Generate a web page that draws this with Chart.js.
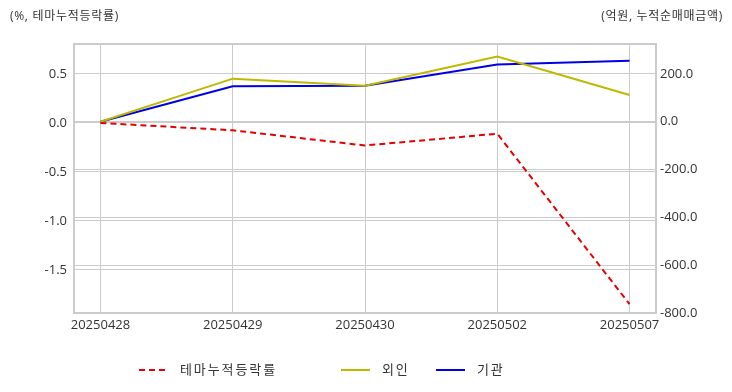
<!DOCTYPE html>
<html>
<head>
<meta charset="utf-8">
<script src="https://cdn.jsdelivr.net/npm/chart.js@4.4.1/dist/chart.umd.min.js"></script>
<style>
  html, body { margin: 0; padding: 0; background: #fff; }
  body { width: 732px; height: 392px; position: relative; overflow: hidden;
         font-family: "Open Sans", "Noto Sans CJK KR", sans-serif; color: #333; }
  #wrap { position: absolute; left: 0; top: 0; width: 732px; height: 392px; }
  .axisTitle { position: absolute; top: 6px; font-size: 12px; letter-spacing: 0.7px; white-space: nowrap; }
  .leg { position: absolute; top: 359px; font-size: 13px; letter-spacing: 1.9px; white-space: nowrap; }
  .leg svg { position: absolute; top: 9px; }
</style>
</head>
<body>
<div id="wrap"><canvas id="chart" width="732" height="392"></canvas></div>
<div class="axisTitle" style="left:10px;">(%, 테마누적등락률)</div>
<div class="axisTitle" style="right:9px;">(억원, 누적순매매금액)</div>

<div class="leg" style="left:139px;">
  <svg width="30" height="4"><line x1="0" y1="2" x2="28" y2="2" stroke="#e60000" stroke-width="2" stroke-dasharray="6,4"/></svg>
  <span style="position:absolute;left:41px;">테마누적등락률</span>
</div>
<div class="leg" style="left:341px;">
  <svg width="30" height="4"><line x1="0" y1="2" x2="29" y2="2" stroke="#bfb800" stroke-width="2"/></svg>
  <span style="position:absolute;left:41px;">외인</span>
</div>
<div class="leg" style="left:436px;">
  <svg width="30" height="4"><line x1="0" y1="2" x2="29" y2="2" stroke="#0000e6" stroke-width="2"/></svg>
  <span style="position:absolute;left:41px;">기관</span>
</div>

<script>
const dates = ["20250428", "20250429", "20250430", "20250502", "20250507"];
const themeReturn = [0.0, -0.075, -0.23, -0.11, -1.85];     // %, left axis
const foreignNet = [0.0, 180, 150, 273, 112];               // 억원, right axis
const instNet = [0.0, 148, 150, 239, 255];                  // 억원, right axis

const gridColor = "#cccccc";
const tickFont = { family: "'Open Sans', 'Noto Sans CJK KR', sans-serif", size: 13 };

function toPoints(values) {
  return values.map((v, i) => ({ x: i, y: v }));
}

// draws the full box round the plot area
const boxBorder = {
  id: "boxBorder",
  afterDraw(chart) {
    const { ctx, chartArea } = chart;
    ctx.save();
    ctx.strokeStyle = gridColor;
    ctx.lineWidth = 2;
    ctx.strokeRect(chartArea.left, chartArea.top, chartArea.right - chartArea.left, chartArea.bottom - chartArea.top);
    ctx.restore();
  },
};

new Chart(document.getElementById("chart"), {
  type: "line",
  data: {
    datasets: [
      {
        label: "테마누적등락률",
        data: toPoints(themeReturn),
        yAxisID: "y",
        borderColor: "#e60000",
        borderWidth: 2,
        borderDash: [6, 4],
        pointRadius: 0,
        tension: 0,
      },
      {
        label: "외인",
        data: toPoints(foreignNet),
        yAxisID: "y1",
        borderColor: "#bfb800",
        borderWidth: 2,
        pointRadius: 0,
        tension: 0,
      },
      {
        label: "기관",
        data: toPoints(instNet),
        yAxisID: "y1",
        borderColor: "#0000e6",
        borderWidth: 2,
        pointRadius: 0,
        tension: 0,
      },
    ],
  },
  plugins: [boxBorder],
  options: {
    responsive: false,
    animation: false,
    layout: { padding: { top: 44, left: 0, right: 0, bottom: 0 } },
    plugins: {
      legend: { display: false },
      tooltip: { enabled: false },
    },
    scales: {
      x: {
        type: "linear",
        min: -0.2,
        max: 4.2,
        afterFit: (s) => { s.height = 79; },
        grid: { color: gridColor, drawTicks: false },
        border: { color: gridColor, width: 2 },
        ticks: {
          stepSize: 1,
          includeBounds: false,
          padding: 4,
          color: "#333",
          font: tickFont,
          maxRotation: 0,
          callback: (v) => dates[v] ?? "",
        },
      },
      y: {
        position: "left",
        min: -1.94,
        max: 0.806,
        afterFit: (s) => { s.width = 74; },
        grid: { color: gridColor, drawTicks: false },
        border: { color: gridColor, width: 2 },
        ticks: {
          stepSize: 0.5,
          includeBounds: false,
          padding: 7,
          color: "#333",
          font: tickFont,
          callback: (v) => v.toFixed(1),
        },
      },
      y1: {
        position: "right",
        min: -800,
        max: 325,
        afterFit: (s) => { s.width = 76; },
        grid: { color: gridColor, drawTicks: false },
        border: { color: gridColor, width: 2 },
        ticks: {
          stepSize: 200,
          includeBounds: false,
          padding: 4,
          color: "#333",
          font: tickFont,
          callback: (v) => v.toFixed(1),
        },
      },
    },
  },
});
</script>
</body>
</html>
